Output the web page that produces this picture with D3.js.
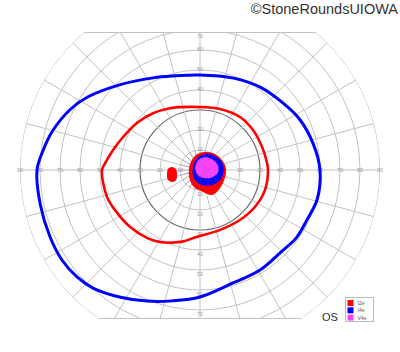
<!DOCTYPE html>
<html>
<head>
<meta charset="utf-8">
<script src="https://cdn.jsdelivr.net/npm/d3@7"></script>
<style>
  body { margin: 0; background: #fff; }
  svg { display: block; font-family: "Liberation Sans", Arial, sans-serif; }
</style>
</head>
<body>
<div class="chart"></div>
<script>
// Grid settings (degrees of visual field)
const ringDegrees = [10, 20, 30, 40, 50, 60, 70, 80, 90];
const meridians = [0, 15, 30, 45, 60, 75, 90, 105, 120, 135, 150, 165, 180, 195, 210, 225, 240, 255, 270, 285, 300, 315, 330, 345];
const hLabels = ["10", "20", "30", "40", "50", "60", "70", "80", "90"];
const vLabels = ["10", "20", "30", "40", "50", "60", "70"];

// Isopters as [meridian angle, eccentricity]
const i4eOuter = [[0, 60], [13, 58.1], [27, 55.9], [39, 53.3], [54, 51.2], [70, 48.9], [90, 47.5],
  [106, 48.9], [117, 51.7], [133, 58.4], [147, 67], [155, 71.6], [165, 76.2], [173, 79.1], [180, 81.5],
  [192, 81.7], [204, 82.1], [213, 82.4], [221, 81.5], [228, 79.6], [238, 75], [248, 70.7],
  [258, 66.9], [270, 63.5], [286, 58.9], [301, 58.3], [314, 57.6], [325, 58.9], [335, 59], [346, 60.4]];
const i2eOuter = [[0, 34], [6, 33.7], [20, 33.1], [37, 33.2], [53, 33.2], [72, 32.1], [90, 31.5],
  [116, 34.4], [130, 36.9], [143, 39.3], [157, 41.9], [167, 44.6], [176, 47.6], [180, 49],
  [196, 48.4], [207, 46.7], [219, 45.1], [232, 43.1], [241, 41.2], [256, 36.9], [267, 33.5],
  [288, 31.6], [309, 32], [326, 33.1], [343, 34]];
const i2eBlindSpot = [[174, 14.1], [178, 12], [190, 11.7], [203, 13], [203, 15.2], [197, 16.8], [187, 16.6], [178, 16]];
const i2eCentral = [[75, 9.3], [47, 11], [24, 12.1], [4, 13], [342, 13.1], [318, 13.5], [296, 13.9],
  [278, 11.1], [246, 8.7], [209, 6.3], [149, 5.8], [105, 7.8]];
const i4eCentral = [[66, 8.9], [39, 10.5], [18, 11.7], [355, 11.8], [332, 11.2], [306, 9.4],
  [275, 7.4], [235, 5.2], [157, 3.9], [100, 6.3]];
const v4eCentral = [[65, 7.0], [36, 8.3], [12, 9.3], [351, 9.0], [328, 7.0], [294, 4.4],
  [239, 2.6], [141, 3.0], [95, 5.3]];

const legendNames = ["I2e", "I4e", "V4e"];
const legendColors = ["#ff0000", "#0000ff", "#ff44ff"];

const width = 400, height = 352;
const cx = 200, cy = 170;
const clipTop = 32, clipBottom = 319;

const r = d3.scaleLinear().domain([0, 90]).range([0, 180]);

function toXY(a, e) {
  const rad = a * Math.PI / 180;
  return [cx + r(e) * Math.cos(rad), cy - r(e) * Math.sin(rad)];
}

const svg = d3.select(".chart")
  .append("svg")
    .attr("width", width)
    .attr("height", height);

// Clip: inside the 90 ring, between top and bottom chords
const defs = svg.append("defs");
const clip = defs.append("clipPath").attr("id", "field");
clip.append("path")
  .attr("d", () => {
    const dyT = cy - clipTop, dyB = clipBottom - cy, R = r(90);
    const xt = Math.sqrt(R * R - dyT * dyT), xb = Math.sqrt(R * R - dyB * dyB);
    return `M${cx - xt},${clipTop} L${cx + xt},${clipTop} A${R},${R} 0 0 1 ${cx + xb},${clipBottom}` +
      ` L${cx - xb},${clipBottom} A${R},${R} 0 0 1 ${cx - xt},${clipTop} Z`;
  });

const grid = svg.append("g").attr("clip-path", "url(#field)");

// rings
grid.selectAll("circle")
  .data(ringDegrees)
  .enter()
  .append("circle")
    .attr("cx", cx)
    .attr("cy", cy)
    .attr("r", d => r(d))
    .attr("fill", "none")
    .attr("stroke", d => d === 30 ? "#6a6a6a" : "#c2c2c2")
    .attr("stroke-width", d => d === 30 ? 1.2 : 1);

// meridians
grid.selectAll("line.mer")
  .data(meridians)
  .enter()
  .append("line")
    .attr("class", "mer")
    .attr("x1", cx)
    .attr("y1", cy)
    .attr("x2", d => toXY(d, 90)[0])
    .attr("y2", d => toXY(d, 90)[1])
    .attr("stroke", "#c2c2c2")
    .attr("stroke-width", 1);

// top and bottom border chords
[clipTop + 0.5, clipBottom - 0.5].forEach(y => {
  const dy = Math.abs(y - cy), R = r(90);
  const dx = Math.sqrt(R * R - dy * dy);
  grid.append("line")
    .attr("x1", cx - dx).attr("x2", cx + dx)
    .attr("y1", y).attr("y2", y)
    .attr("stroke", "#c2c2c2")
    .attr("stroke-width", 1);
});

// axis labels
const labels = svg.append("g")
  .attr("font-size", "5.5px")
  .attr("fill", "#9a9a9a")
  .attr("text-anchor", "middle")
  .attr("dominant-baseline", "central");

hLabels.forEach((t, i) => {
  labels.append("text").attr("x", cx - r(ringDegrees[i])).attr("y", cy).text(t);
  labels.append("text").attr("x", cx + r(ringDegrees[i])).attr("y", cy).text(t);
});
vLabels.forEach((t, i) => {
  labels.append("text").attr("x", cx).attr("y", Math.max(cy - r(ringDegrees[i]) - 1, 36)).text(t);
  labels.append("text").attr("x", cx).attr("y", Math.min(cy + r(ringDegrees[i]) + 4, 315)).text(t);
});

// isopters
const line = d3.line()
  .x(d => toXY(d[0], d[1])[0])
  .y(d => toXY(d[0], d[1])[1])
  .curve(d3.curveCatmullRomClosed.alpha(0.5));

const iso = svg.append("g").attr("clip-path", "url(#field)");

// filled central islands and blind spot
iso.append("path").attr("d", line(i2eBlindSpot)).attr("fill", "#ff0000");
iso.append("path").attr("d", line(i2eCentral)).attr("fill", "#ff0000");
iso.append("path").attr("d", line(i4eCentral)).attr("fill", "#0000ff");
iso.append("path").attr("d", line(v4eCentral)).attr("fill", "#ff44ff");

// faint grid showing through the central fill
iso.selectAll("line.over")
  .data(meridians)
  .enter()
  .append("line")
    .attr("x1", d => toXY(d, 2)[0])
    .attr("y1", d => toXY(d, 2)[1])
    .attr("x2", d => toXY(d, 10)[0])
    .attr("y2", d => toXY(d, 10)[1])
    .attr("stroke", "#a040a0")
    .attr("stroke-opacity", 0.35)
    .attr("stroke-width", 0.8);

iso.append("path")
  .attr("d", line(i2eOuter))
  .attr("fill", "none")
  .attr("stroke", "#ff0000")
  .attr("stroke-width", 2.6);

iso.append("path")
  .attr("d", line(i4eOuter))
  .attr("fill", "none")
  .attr("stroke", "#0000ff")
  .attr("stroke-width", 3);

// copyright
svg.append("text")
  .attr("x", 398)
  .attr("y", 14)
  .attr("text-anchor", "end")
  .attr("font-size", "14.5px")
  .attr("fill", "#333")
  .text("©StoneRoundsUIOWA");

// eye label
svg.append("text")
  .attr("x", 322)
  .attr("y", 321)
  .attr("font-size", "11px")
  .attr("fill", "#333")
  .text("OS");

// legend
const legend = svg.append("g").attr("transform", "translate(345.5, 297.5)");
legend.append("rect")
  .attr("width", 28)
  .attr("height", 24)
  .attr("fill", "#fff")
  .attr("stroke", "#bbb")
  .attr("stroke-width", 1);
legend.selectAll("rect.sw")
  .data(legendNames)
  .enter()
  .append("rect")
    .attr("class", "sw")
    .attr("x", 2)
    .attr("y", (d, i) => 2.5 + i * 7.3)
    .attr("width", 6)
    .attr("height", 6)
    .attr("fill", (d, i) => legendColors[i]);
legend.selectAll("text")
  .data(legendNames)
  .enter()
  .append("text")
    .attr("x", 12)
    .attr("y", (d, i) => 5.5 + i * 7.3)
    .attr("dominant-baseline", "central")
    .attr("font-size", "5px")
    .attr("fill", "#555")
    .text(d => d);
</script>
</body>
</html>
